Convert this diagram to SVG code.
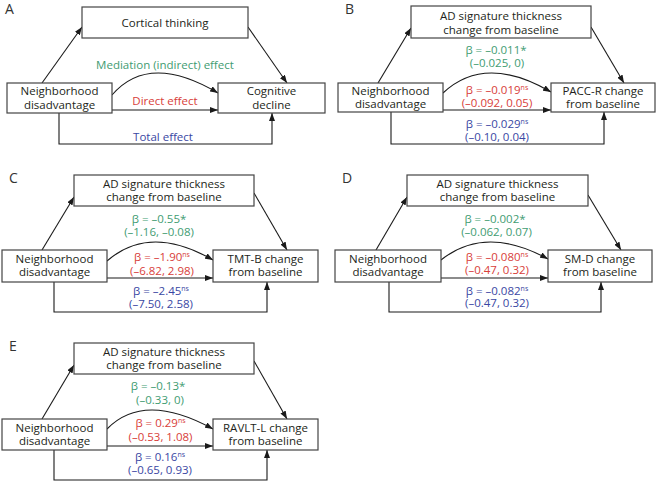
<svg xmlns="http://www.w3.org/2000/svg" width="657" height="482" viewBox="0 0 657 482">
<defs>
<marker id="ah" markerUnits="userSpaceOnUse" markerWidth="8" markerHeight="6" refX="8" refY="3" orient="auto">
<path d="M0,0 L8,3 L0,6 z" fill="#1a1a1a"/>
</marker>
<style>
text{font-family:"Open Sans","Noto Sans","Liberation Sans",sans-serif;font-size:11.5px;fill:#231f20;text-anchor:middle}
.lbl{font-size:14px;text-anchor:start;fill:#333}
.box{fill:#fff;stroke:#444;stroke-width:1.2}
.c{fill:none;stroke:#1a1a1a;stroke-width:1.1}
.a{marker-end:url(#ah)}
.g{fill:#3f9c72}
.r{fill:#d8403a}
.b{fill:#3a47a3}
.s{font-size:7px}
</style>
</defs>
<rect width="657" height="482" fill="#fff"/>

<!-- Panel A -->
<g id="panelA">
<text class="lbl" x="5" y="14">A</text>
<g id="connectorsA">
<line class="c a" x1="42" y1="83" x2="82" y2="27"/>
<line class="c a" x1="248" y1="27" x2="287" y2="83"/>
<path class="c a" d="M112,95 Q149,52 218,93"/>
<line class="c a" x1="112" y1="110" x2="218" y2="110"/>
<polyline class="c a" points="59,113 59,144 272,144 272,113"/>
</g>
<g id="A_mediator"><rect class="box" x="82" y="7" width="166" height="31"/><text x="165" y="27">Cortical thinking</text></g>
<g id="A_exposure"><rect class="box" x="7" y="83" width="105" height="30"/><text x="59.5" y="95">Neighborhood</text><text x="59.5" y="109">disadvantage</text></g>
<g id="A_outcome"><rect class="box" x="218" y="83" width="107" height="30"/><text x="271.5" y="95">Cognitive</text><text x="271.5" y="109">decline</text></g>
<text class="g" x="165" y="69">Mediation (indirect) effect</text>
<text class="r" x="165" y="105">Direct effect</text>
<text class="b" x="163" y="141">Total effect</text>
</g>

<!-- Panel B -->
<g id="panelB">
<text class="lbl" x="345" y="14">B</text>
<g id="connectorsB">
<line class="c a" x1="378" y1="83" x2="411" y2="28"/>
<line class="c a" x1="591" y1="27" x2="624" y2="83"/>
<path class="c a" d="M443,93 Q485,53.5 551,92"/>
<line class="c a" x1="443" y1="110" x2="551" y2="110"/>
<polyline class="c a" points="391,112 391,144 604,144 604,112"/>
</g>
<g id="B_mediator"><rect class="box" x="411" y="6" width="180" height="32"/><text x="501" y="19.5">AD signature thickness</text><text x="501" y="33.5">change from baseline</text></g>
<g id="B_exposure"><rect class="box" x="338" y="83" width="105" height="29"/><text x="390.5" y="94.5">Neighborhood</text><text x="390.5" y="108">disadvantage</text></g>
<g id="B_outcome"><rect class="box" x="551" y="83" width="104" height="29"/><text x="603" y="94.5">PACC-R change</text><text x="603" y="108">from baseline</text></g>
<text class="g" x="496" y="54">β = –0.011*</text>
<text class="g" x="497" y="67">(–0.025, 0)</text>
<text class="r" x="497" y="94">β = –0.019<tspan class="s" dy="-4">ns</tspan></text>
<text class="r" x="497" y="107">(–0.092, 0.05)</text>
<text class="b" x="497" y="128">β = –0.029<tspan class="s" dy="-4">ns</tspan></text>
<text class="b" x="497" y="140.5">(–0.10, 0.04)</text>
</g>

<!-- Panel C -->
<g id="panelC">
<text class="lbl" x="9" y="183">C</text>
<g id="connectorsC">
<line class="c a" x1="42" y1="250" x2="74" y2="197"/>
<line class="c a" x1="254" y1="193" x2="287" y2="250"/>
<path class="c a" d="M107,261 Q150,223.5 213,260"/>
<line class="c a" x1="107" y1="278" x2="213" y2="278"/>
<polyline class="c a" points="54,282 54,312 267,312 267,282"/>
</g>
<g id="C_mediator"><rect class="box" x="74" y="175" width="180" height="31"/><text x="164" y="187.5">AD signature thickness</text><text x="164" y="201">change from baseline</text></g>
<g id="C_exposure"><rect class="box" x="2" y="250" width="105" height="32"/><text x="54.5" y="262.5">Neighborhood</text><text x="54.5" y="276">disadvantage</text></g>
<g id="C_outcome"><rect class="box" x="213" y="250" width="105" height="32"/><text x="265.5" y="262.5">TMT-B change</text><text x="265.5" y="276">from baseline</text></g>
<text class="g" x="159" y="222.5">β = –0.55*</text>
<text class="g" x="159" y="236">(–1.16, –0.08)</text>
<text class="r" x="162" y="261">β = –1.90<tspan class="s" dy="-4">ns</tspan></text>
<text class="r" x="162" y="274.5">(–6.82, 2.98)</text>
<text class="b" x="161" y="294.5">β = –2.45<tspan class="s" dy="-4">ns</tspan></text>
<text class="b" x="161" y="307.5">(–7.50, 2.58)</text>
</g>

<!-- Panel D -->
<g id="panelD">
<text class="lbl" x="342" y="183">D</text>
<g id="connectorsD">
<line class="c a" x1="376" y1="250" x2="407" y2="197"/>
<line class="c a" x1="588" y1="195" x2="621" y2="250"/>
<path class="c a" d="M441,260 Q485.5,224.5 548,259"/>
<line class="c a" x1="441" y1="278" x2="548" y2="278"/>
<polyline class="c a" points="389,282 389,312 601,312 601,282"/>
</g>
<g id="D_mediator"><rect class="box" x="407" y="175" width="181" height="31"/><text x="497.5" y="187.5">AD signature thickness</text><text x="497.5" y="201">change from baseline</text></g>
<g id="D_exposure"><rect class="box" x="335" y="250" width="106" height="32"/><text x="388" y="262.5">Neighborhood</text><text x="388" y="276">disadvantage</text></g>
<g id="D_outcome"><rect class="box" x="548" y="250" width="104" height="32"/><text x="600" y="262.5">SM-D change</text><text x="600" y="276">from baseline</text></g>
<text class="g" x="495" y="222.5">β = –0.002*</text>
<text class="g" x="496.5" y="236">(–0.062, 0.07)</text>
<text class="r" x="497" y="260.5">β = –0.080<tspan class="s" dy="-4">ns</tspan></text>
<text class="r" x="497" y="274">(–0.47, 0.32)</text>
<text class="b" x="497" y="294.5">β = –0.082<tspan class="s" dy="-4">ns</tspan></text>
<text class="b" x="497" y="307">(–0.47, 0.32)</text>
</g>

<!-- Panel E -->
<g id="panelE">
<text class="lbl" x="9" y="351">E</text>
<g id="connectorsE">
<line class="c a" x1="42" y1="419" x2="74" y2="365"/>
<line class="c a" x1="254" y1="361" x2="287" y2="419"/>
<path class="c a" d="M107,429 Q144,391 213,429"/>
<line class="c a" x1="107" y1="446" x2="213" y2="446"/>
<polyline class="c a" points="54,450 54,480 267,480 267,450"/>
</g>
<g id="E_mediator"><rect class="box" x="74" y="343" width="180" height="31"/><text x="164" y="355.5">AD signature thickness</text><text x="164" y="369">change from baseline</text></g>
<g id="E_exposure"><rect class="box" x="2" y="419" width="105" height="31"/><text x="54.5" y="431.5">Neighborhood</text><text x="54.5" y="445">disadvantage</text></g>
<g id="E_outcome"><rect class="box" x="213" y="419" width="105" height="31"/><text x="265.5" y="431.5">RAVLT-L change</text><text x="265.5" y="445">from baseline</text></g>
<text class="g" x="158" y="390">β = –0.13*</text>
<text class="g" x="160" y="404">(–0.33, 0)</text>
<text class="r" x="160.5" y="427">β = 0.29<tspan class="s" dy="-4">ns</tspan></text>
<text class="r" x="160.5" y="440.5">(–0.53, 1.08)</text>
<text class="b" x="160" y="460.5">β = 0.16<tspan class="s" dy="-4">ns</tspan></text>
<text class="b" x="160" y="474">(–0.65, 0.93)</text>
</g>
</svg>
